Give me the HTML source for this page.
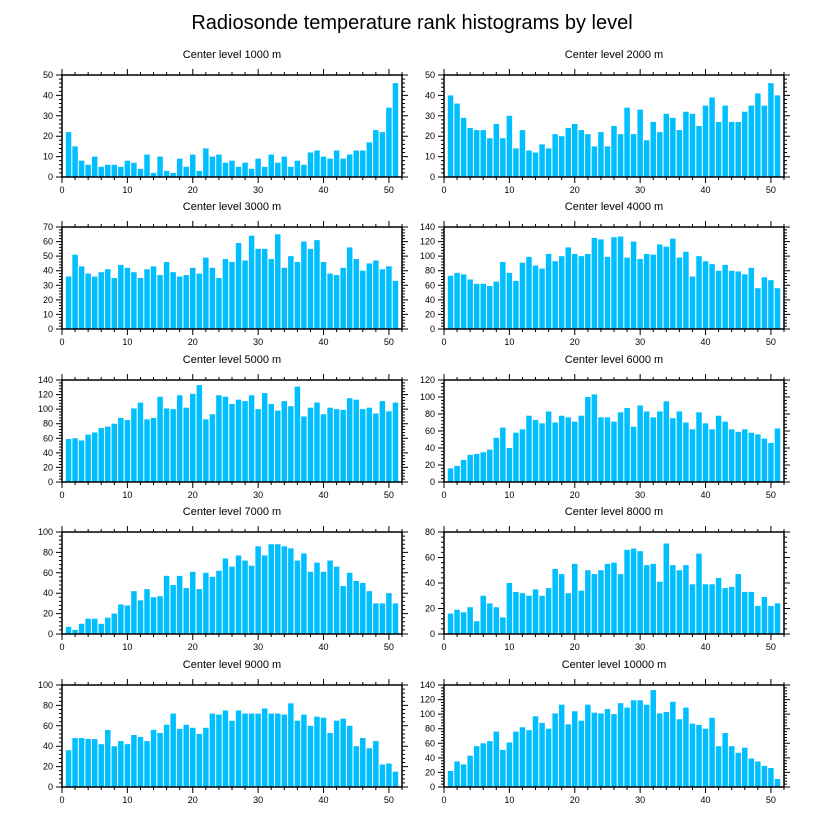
<!DOCTYPE html>
<html><head><meta charset="utf-8"><style>
html,body{margin:0;padding:0;background:#fff;}
svg{display:block;font-family:"Liberation Sans",sans-serif;}
</style></head><body>
<svg id="chart" width="824" height="824" viewBox="0 0 824 824">
<text x="412" y="29" text-anchor="middle" font-size="20">Radiosonde temperature rank histograms by level</text>
</svg>
<script>
const levels = ["1000","2000","3000","4000","5000","6000","7000","8000","9000","10000"];
const yMaxes = [50,50,70,140,140,120,100,80,100,140];
const yMajor = [10,10,10,20,20,20,20,20,20,20];
const xTickLabels = [0,10,20,30,40,50];
const v1000 = [22,15,8,6,10,5,6,6,5,8,7,4,11,2,10,3,2,9,5,11,3,14,10,11,7,8,5,7,4,9,5,11,7,10,5,8,6,12,13,10,9,13,9,11,13,13,17,23,22,34,46];
const v2000 = [40,36,29,24,23,23,19,26,19,30,14,23,13,12,16,14,21,20,24,26,23,21,15,22,15,25,21,34,21,33,18,27,22,31,29,23,32,31,25,35,39,27,35,27,27,32,35,41,35,46,40];
const v3000 = [36,51,43,38,36,39,41,35,44,42,39,35,41,43,37,46,39,36,37,42,38,49,42,35,48,46,59,47,64,55,55,48,65,42,50,46,60,55,61,46,38,37,42,56,48,40,45,47,41,43,33];
const v4000 = [73,77,75,68,62,62,59,65,92,77,66,91,99,87,83,103,93,100,112,103,100,103,125,123,99,126,127,98,120,96,103,102,116,113,124,98,106,72,100,93,89,80,88,80,79,75,84,56,71,67,56];
const v5000 = [59,60,57,65,68,74,76,80,88,85,101,109,86,88,117,101,100,119,102,121,133,86,93,119,117,107,113,111,119,100,122,107,98,111,104,131,90,102,109,93,102,100,99,115,113,100,102,94,111,97,109];
const v6000 = [16,19,26,32,33,35,38,52,64,40,58,62,78,73,69,83,70,78,76,71,78,100,103,76,76,71,82,87,65,90,83,76,83,95,75,83,70,62,82,69,62,78,71,62,59,62,58,56,51,46,63];
const v7000 = [7,4,10,15,15,10,16,20,29,28,42,33,44,36,37,57,48,57,45,61,44,60,56,62,74,66,77,72,67,86,77,88,88,86,84,72,79,61,70,61,72,66,47,60,52,50,42,30,30,40,30];
const v8000 = [16,19,17,21,10,30,24,21,13,40,33,32,30,35,30,36,51,47,32,55,34,50,47,50,55,56,47,66,67,65,54,55,41,71,54,50,54,39,63,39,39,44,36,37,47,33,33,22,29,22,24];
const v9000 = [36,48,48,47,47,42,56,40,45,42,51,49,45,56,53,61,72,57,61,58,52,58,72,71,75,65,75,72,72,72,77,72,72,71,82,65,71,60,69,68,53,65,67,60,40,48,38,45,22,23,15];
const v10000 = [22,35,31,43,56,60,63,76,51,61,76,82,78,97,88,80,101,113,86,104,91,113,102,101,107,100,115,109,119,119,113,133,101,103,117,93,109,87,85,80,95,56,74,56,47,54,39,35,29,26,11];
const series = [v1000,v2000,v3000,v4000,v5000,v6000,v7000,v8000,v9000,v10000];

const NS="http://www.w3.org/2000/svg";
const svg=document.getElementById('chart');
function mk(tag,attrs,parent){const e=document.createElementNS(NS,tag);for(const k in attrs)e.setAttribute(k,attrs[k]);(parent||svg).appendChild(e);return e;}
const colX=[62,444], rowY=[75,227,380,532,685], PW=340, PH=102, XMAX=52;
series.forEach((vals,i)=>{
  const L=colX[i%2], T=rowY[Math.floor(i/2)], B=T+PH, R=L+PW;
  const ymax=yMaxes[i], maj=yMajor[i], minr=maj/5;
  const xs=x=>L+x/XMAX*PW, ys=y=>B-y/ymax*PH;
  const g=mk('g',{});
  
  
  const t=mk('text',{x:(L+R)/2,y:T-17,'text-anchor':'middle','font-size':11},g);
  t.textContent='Center level '+levels[i]+' m';
  
  
  const bw=PW/XMAX*0.84;
  vals.forEach((v,k)=>{
    const x=k+1;
    const r=mk('rect',{x:xs(x)-bw/2,y:ys(v),width:bw,height:B-ys(v),fill:'#00bfff'},g);
    
    
  });
  const f=mk('rect',{x:L,y:T,width:PW,height:PH,fill:'none',stroke:'#000','stroke-width':1.5},g);
  
  
  let d='';
  for(let x=0;x<=XMAX;x+=2){const len=(x%10===0)?6:3;const px=xs(x);d+=`M${px},${B}v${len}M${px},${T}v${-len}`;}
  for(let y=0;y<=ymax+1e-9;y+=minr){const isM=Math.abs(y/maj-Math.round(y/maj))<1e-6;const len=isM?6:3;const py=ys(y);d+=`M${L},${py}h${-len}M${R},${py}h${len}`;}
  mk('path',{d:d,stroke:'#000','stroke-width':1,fill:'none'},g);
  xTickLabels.forEach(lb=>{
    const tx=mk('text',{x:xs(lb),y:B+16,'text-anchor':'middle','font-size':9},g);
    tx.textContent=lb;
    
    
  });
  for(let y=0;y<=ymax+1e-9;y+=maj){
    const ty=mk('text',{x:L-9,y:ys(y)+3,'text-anchor':'end','font-size':9},g);
    ty.textContent=y;
    
    
  }
});
</script>
</body></html>
